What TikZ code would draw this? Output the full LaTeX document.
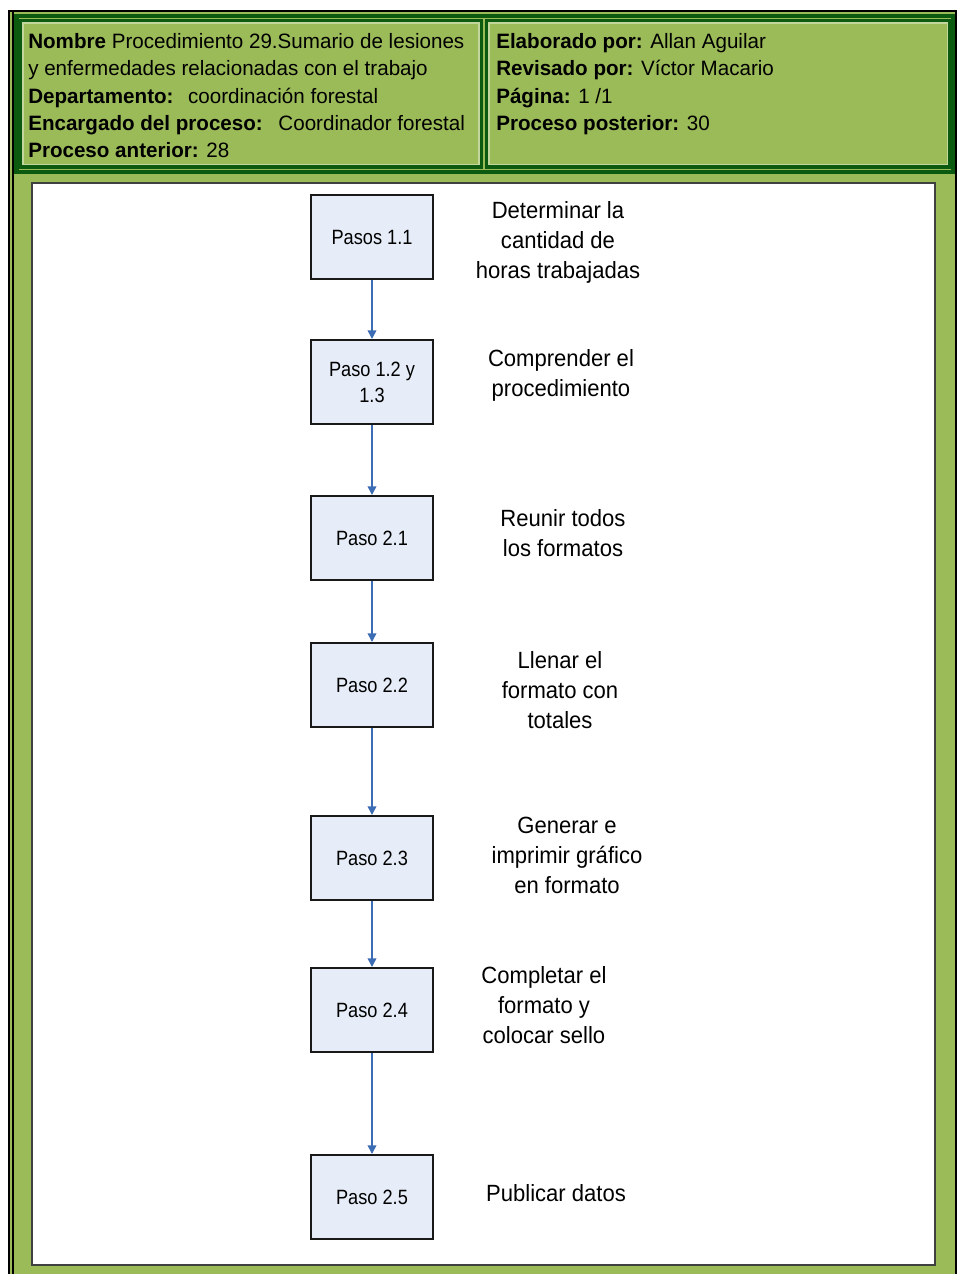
\documentclass[tikz,border=0pt]{standalone}
\usepackage{fontspec}
\setmainfont{Liberation Sans}
\newfontfamily\hdrfont[FakeStretch=0.99]{Liberation Sans}
\newfontfamily\boxfont[FakeStretch=0.88]{Liberation Sans}
\newfontfamily\descfont[FakeStretch=0.94]{Liberation Sans}
\usetikzlibrary{arrows.meta}
\definecolor{framegreen}{HTML}{9BBB59}
\definecolor{lightgreen}{HTML}{C3D69B}
\definecolor{darkgr}{HTML}{0B5A10}
\definecolor{boxfill}{HTML}{E6EDF8}
\definecolor{arrowblue}{HTML}{3C6DB4}
\begin{document}
\begin{tikzpicture}[x=0.75pt,y=-0.75pt,
  hdr/.style={anchor=base west,inner sep=0pt,font=\hdrfont\fontsize{15.6pt}{20pt}\selectfont},
  stepbox/.style={draw=black!90,line width=1.5pt,fill=boxfill,minimum width=91.5pt,
    minimum height=63pt,inner sep=0pt,align=center,
    font=\boxfont\fontsize{15.5pt}{19.5pt}\selectfont},
  desc/.style={align=center,inner sep=0pt,font=\descfont\fontsize{17.6pt}{22.5pt}\selectfont},
  flow/.style={draw=arrowblue,line width=1.2pt,-{Triangle[length=6.5pt,width=6.5pt]}}]
\useasboundingbox (0,0) rectangle (960,1274);
\fill[white] (0,0) rectangle (960,1274);
% green frame with black outline
\fill[framegreen] (9,11) rectangle (956,1274);
\draw[black,line width=1.5pt] (9,1274) -- (9,11) -- (956,11) -- (956,1274);
\draw[black,line width=1.5pt] (13,12) -- (13,1274);
% header block
\draw[darkgr,line width=3.5pt] (16.5,16) rectangle (953,172);
\draw[darkgr,line width=2.5pt,fill=framegreen] (20.5,20.5) rectangle (481.5,167);
\draw[lightgreen,line width=0.8pt] (23,23) rectangle (479,164.5);
\draw[darkgr,line width=2.5pt,fill=framegreen] (486.5,20.5) rectangle (950,167);
\draw[lightgreen,line width=0.8pt] (489,23) rectangle (947.5,164.5);
% header texts
\node[hdr] (h1) at (28,48) {\textbf{Nombre} Procedimiento 29.Sumario de lesiones};
\node[hdr] (h2) at (28,75.5) {y enfermedades relacionadas con el trabajo};
\node[hdr] (h3) at (28,103) {\textbf{Departamento:}\hspace{0.7em}coordinación forestal};
\node[hdr] (h4) at (28,130) {\textbf{Encargado del proceso:}\hspace{0.75em}Coordinador forestal};
\node[hdr] (h5) at (28,157) {\textbf{Proceso anterior:} 28};
\node[hdr] (r1) at (496,48) {\textbf{Elaborado por:} Allan Aguilar};
\node[hdr] (r2) at (496,75.5) {\textbf{Revisado por:} Víctor Macario};
\node[hdr] (r3) at (496,103) {\textbf{Página:} 1 /1};
\node[hdr] (r4) at (496,130) {\textbf{Proceso posterior:} 30};
% white working area
\draw[black!75,line width=1.5pt,fill=white] (32,183) rectangle (935,1265);
% process steps
\node[stepbox] (s1) at (372,237) {Pasos 1.1};
\node[stepbox] (s2) at (372,382) {Paso 1.2 y\\1.3};
\node[stepbox] (s3) at (372,538) {Paso 2.1};
\node[stepbox] (s4) at (372,685) {Paso 2.2};
\node[stepbox] (s5) at (372,858) {Paso 2.3};
\node[stepbox] (s6) at (372,1010) {Paso 2.4};
\node[stepbox] (s7) at (372,1197) {Paso 2.5};
\foreach \a/\b in {s1/s2,s2/s3,s3/s4,s4/s5,s5/s6,s6/s7}
  \draw[flow] (\a) -- (\b);
% step descriptions
\node[desc] (d1) at (558,242) {Determinar la\\cantidad de\\horas trabajadas};
\node[desc] (d2) at (561,375.5) {Comprender el\\procedimiento};
\node[desc] (d3) at (563,533.5) {Reunir todos\\los formatos};
\node[desc] (d4) at (560,690) {Llenar el\\formato con\\totales};
\node[desc] (d5) at (567,855) {Generar e\\imprimir gráfico\\en formato};
\node[desc] (d6) at (544,1005.5) {Completar el\\formato y\\colocar sello};
\node[desc] (d7) at (556,1193) {Publicar datos};
\end{tikzpicture}
\end{document}
